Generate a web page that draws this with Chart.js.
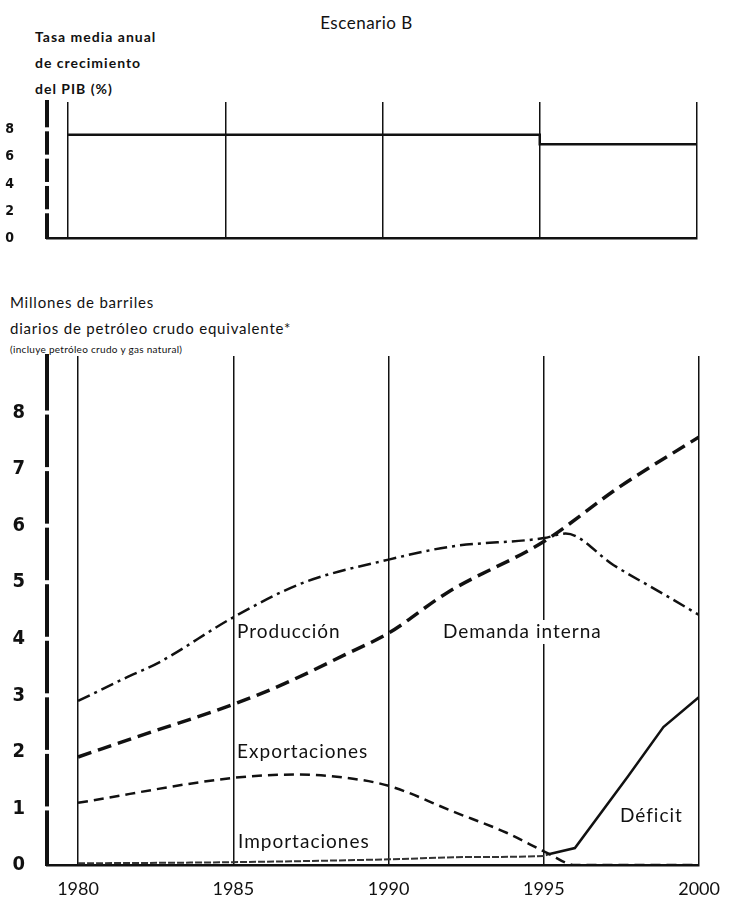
<!DOCTYPE html>
<html>
<head>
<meta charset="utf-8">
<script src="https://cdn.jsdelivr.net/npm/chart.js@4.4.0/dist/chart.umd.min.js"></script>
<style>
  body { margin: 0; background: #fff; width: 733px; height: 905px; position: relative; overflow: hidden; font-family: Lato, sans-serif; color: #111; }
  .txt { position: absolute; white-space: nowrap; }
  #title { left: 0; width: 733px; text-align: center; top: 12px; font-size: 17px; letter-spacing: 0.5px; }
  #pibTitle { left: 35px; top: 24px; font-size: 14px; font-weight: bold; line-height: 26px; letter-spacing: 1px; }
  #oilTitle { left: 10px; top: 289px; font-size: 15px; line-height: 26px; letter-spacing: 0.8px; }
  #oilNote { left: 10px; top: 343px; font-size: 10px; letter-spacing: 0.3px; }
  canvas { position: absolute; left: 0; }
  #pib { top: 0; }
  #oil { top: 280px; }
</style>
</head>
<body>
<div class="txt" id="title">Escenario B</div>
<div class="txt" id="pibTitle">Tasa media anual<br>de crecimiento<br>del PIB (%)</div>
<div class="txt" id="oilTitle">Millones de barriles<br>diarios de petróleo crudo equivalente*</div>
<div class="txt" id="oilNote">(incluye petróleo crudo y gas natural)</div>
<canvas id="pib" width="733" height="280"></canvas>
<canvas id="oil" width="733" height="625"></canvas>
<script>
// tasa media anual de crecimiento del PIB
const pibYears = [1980, 1995, 2000];
const pibRate = [7.6, 6.9, 6.9];
const pibTicks = [0, 2, 4, 6, 8];

// millones de barriles diarios
const yearTicks = [1980, 1985, 1990, 1995, 2000];
const oilTicks = [0, 1, 2, 3, 4, 5, 6, 7, 8];

const prodYears = [1980, 1981.5, 1982.6, 1985, 1987.2, 1990, 1992, 1995, 1995.7, 1997.25, 1998.95, 2000];
const prodVals = [2.9, 3.3, 3.58, 4.38, 4.98, 5.4, 5.63, 5.78, 5.86, 5.3, 4.76, 4.42];

const demYears = [1980, 1982.3, 1985, 1986.7, 1988.6, 1990, 1991.9, 1995, 1997.45, 2000];
const demVals = [1.91, 2.34, 2.84, 3.22, 3.72, 4.1, 4.82, 5.72, 6.69, 7.57];

const expYears = [1980, 1985, 1987, 1988.5, 1990, 1992.1, 1993.8, 1995, 1995.15, 1996, 2000];
const expVals = [1.1, 1.54, 1.6, 1.55, 1.4, 0.94, 0.57, 0.24, 0.2, 0, 0];

const impYears = [1980, 1985, 1990, 1992.5, 1995, 1995.15];
const impVals = [0.03, 0.05, 0.1, 0.14, 0.16, 0.19];

const defYears = [1995.15, 1996, 1997.7, 1998.85, 2000];
const defVals = [0.19, 0.3, 1.56, 2.44, 2.97];

const labelTexts = ["Producción", "Demanda interna", "Exportaciones", "Importaciones", "Déficit"];
const labelYears = [1985.12, 1991.75, 1985.12, 1985.15, 1997.45];
const labelVals = [4.12, 4.12, 2.0, 0.41, 0.87];

const pts = (xs, ys) => xs.map((x, i) => ({ x: x, y: ys[i] }));
const ink = '#111';

// little gaps in the thick left axis, at each tick
const axisGaps = {
    id: 'axisGaps',
    afterDraw(chart) {
        const { ctx, chartArea, scales } = chart;
        ctx.save();
        ctx.fillStyle = '#fff';
        scales.y.ticks.forEach(t => {
            if (t.value === 0) return;
            const py = scales.y.getPixelForValue(t.value);
            ctx.fillRect(chartArea.left - 4, py - 2, 8, 4);
        });
        ctx.restore();
    }
};

// text labels sitting next to the curves
const lineLabels = {
    id: 'lineLabels',
    beforeDatasetsDraw(chart) {
        const { ctx, scales: { x, y } } = chart;
        ctx.save();
        ctx.font = '19px Lato';
        ctx.letterSpacing = '1px';
        ctx.textBaseline = 'middle';
        labelTexts.forEach((t, i) => {
            const px = x.getPixelForValue(labelYears[i]);
            const py = y.getPixelForValue(labelVals[i]);
            const w = ctx.measureText(t).width;
            ctx.fillStyle = '#fff';
            ctx.fillRect(px - 2, py - 12, w + 4, 24);
            ctx.fillStyle = ink;
            ctx.fillText(t, px, py);
        });
        ctx.restore();
    }
};

// nudge the layout padding so the plot box lands where the printed one is
function fitArea(chart, top, bottom) {
    const p = chart.options.layout.padding;
    p.top += top - chart.chartArea.top;
    p.bottom += chart.chartArea.bottom - bottom;
    chart.update();
}

const pibChart = new Chart(document.getElementById('pib'), {
    type: 'line',
    data: {
        datasets: [{
            data: pts(pibYears, pibRate),
            stepped: 'before',
            borderColor: ink,
            borderWidth: 2.5,
            pointRadius: 0
        }]
    },
    options: {
        responsive: false,
        animation: false,
        layout: { padding: { top: 102, right: 36, bottom: 14, left: 0 } },
        plugins: { legend: { display: false }, tooltip: { enabled: false } },
        scales: {
            x: {
                type: 'linear', min: 1979.33, max: 2000,
                afterBuildTicks: s => { s.ticks = yearTicks.map(v => ({ value: v })); },
                afterFit: s => { s.height = 0; },
                grid: { color: ink, lineWidth: 1.5, drawTicks: false },
                border: { color: ink, width: 2.5 },
                ticks: { display: false }
            },
            y: {
                min: 0, max: 10,
                afterBuildTicks: s => { s.ticks = pibTicks.map(v => ({ value: v })); },
                afterFit: s => { s.width = 47; },
                grid: { display: false, drawTicks: false },
                border: { color: ink, width: 4 },
                ticks: { color: ink, padding: 33, font: { family: 'DejaVu Sans Condensed', weight: 'bold', size: 14 } }
            }
        }
    },
    plugins: [axisGaps]
});
fitArea(pibChart, 102, 246);

const oilChart = new Chart(document.getElementById('oil'), {
    type: 'line',
    data: {
        datasets: [
            { label: 'Producción', data: pts(prodYears, prodVals), borderColor: ink, borderWidth: 2.5, borderDash: [13, 5, 3, 5], pointRadius: 0, cubicInterpolationMode: 'monotone' },
            { label: 'Demanda interna', data: pts(demYears, demVals), borderColor: ink, borderWidth: 3.5, borderDash: [14, 7], pointRadius: 0, cubicInterpolationMode: 'monotone' },
            { label: 'Exportaciones', data: pts(expYears, expVals), borderColor: ink, borderWidth: 2.5, borderDash: [10, 6], pointRadius: 0, cubicInterpolationMode: 'monotone' },
            { label: 'Importaciones', data: pts(impYears, impVals), borderColor: '#333', borderWidth: 2, borderDash: [7, 2], pointRadius: 0, cubicInterpolationMode: 'monotone' },
            { label: 'Déficit', data: pts(defYears, defVals), borderColor: ink, borderWidth: 2.5, pointRadius: 0, tension: 0 }
        ]
    },
    options: {
        responsive: false,
        animation: false,
        layout: { padding: { top: 76, right: 30, bottom: 0, left: 0 } },
        plugins: { legend: { display: false }, tooltip: { enabled: false } },
        scales: {
            x: {
                type: 'linear', min: 1979, max: 2000,
                afterBuildTicks: s => { s.ticks = yearTicks.map(v => ({ value: v })); },
                afterFit: s => { s.height = 40; },
                grid: { color: ink, lineWidth: 1.5, drawTicks: false },
                border: { color: ink, width: 2.5 },
                ticks: { color: ink, padding: 13, autoSkip: false, maxRotation: 0, font: { family: 'Lato', size: 18 }, callback: v => String(v) }
            },
            y: {
                min: 0, max: 9,
                afterBuildTicks: s => { s.ticks = oilTicks.map(v => ({ value: v })); },
                afterFit: s => { s.width = 47; },
                grid: { display: false, drawTicks: false },
                border: { color: ink, width: 4 },
                ticks: { color: ink, padding: 22, font: { family: 'DejaVu Sans Condensed', weight: 'bold', size: 20 } }
            }
        }
    },
    plugins: [lineLabels, axisGaps]
});
fitArea(oilChart, 76, 585);
</script>
</body>
</html>
